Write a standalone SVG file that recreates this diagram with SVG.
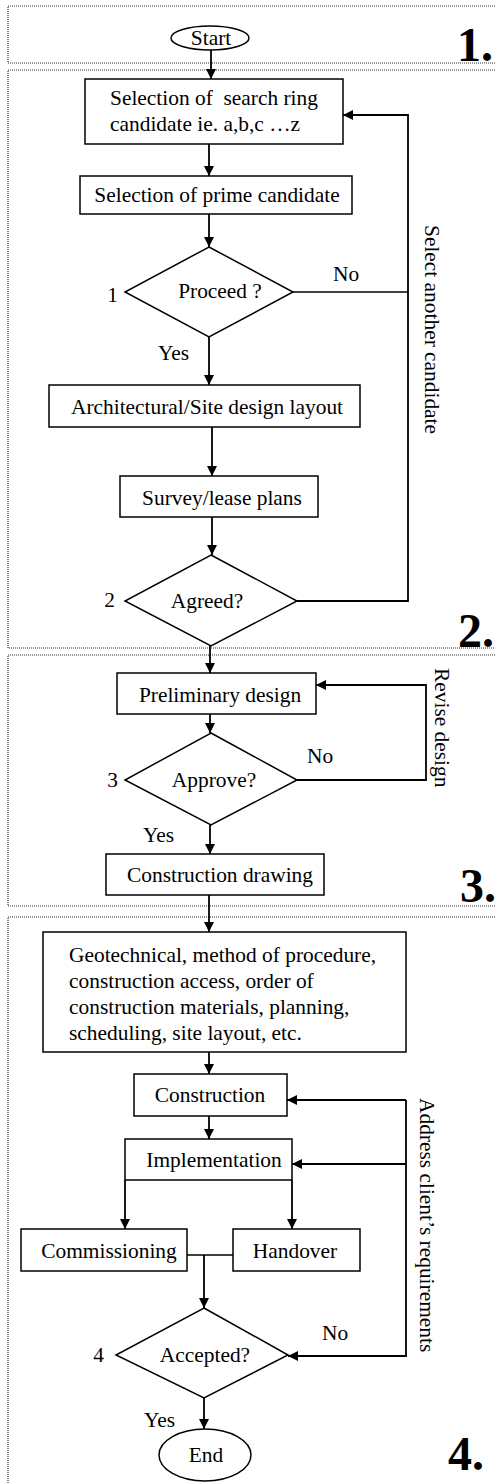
<svg xmlns="http://www.w3.org/2000/svg" width="495" height="1483" viewBox="0 0 495 1483">
<style>
text{font-family:"Liberation Serif","Times New Roman",serif;font-size:21.4px;fill:#000}
.c{text-anchor:middle}
.e{text-anchor:end}
.big{font-weight:bold;font-size:48px}
.pre{white-space:pre}
.box{fill:#fff;stroke:#000;stroke-width:1.5}
.sec{fill:none;stroke:#333;stroke-width:1.2;stroke-dasharray:1 1}
.ln{fill:none;stroke:#000;stroke-width:1.7}
.ar{fill:none;stroke:#000;stroke-width:1.8;marker-end:url(#ah)}
</style>
<defs>
<marker id="ah" viewBox="0 0 10 10" refX="10" refY="5" markerWidth="10" markerHeight="10" markerUnits="userSpaceOnUse" orient="auto">
<path d="M0,0 L10,5 L0,10 z" fill="#000"/>
</marker>
</defs>
<rect width="495" height="1483" fill="#fff"/>
<g id="sections">
<rect class="sec" x="8" y="6" width="520" height="57"/>
<rect class="sec" x="8" y="70" width="520" height="578"/>
<rect class="sec" x="8" y="655" width="520" height="251"/>
<rect class="sec" x="8" y="917" width="520" height="600"/>
<text class="big" x="457" y="61">1.</text>
<text class="big" x="458" y="647">2.</text>
<text class="big" x="460" y="902">3.</text>
<text class="big" x="448" y="1470">4.</text>
</g>
<g id="connectors">
<line class="ar" x1="211" y1="49" x2="211" y2="79"/>
<line class="ar" x1="209" y1="144" x2="209" y2="176"/>
<line class="ar" x1="209" y1="214" x2="209" y2="247"/>
<line class="ar" x1="209" y1="337" x2="209" y2="385"/>
<line class="ar" x1="212" y1="427" x2="212" y2="476"/>
<line class="ar" x1="212" y1="517" x2="212" y2="555"/>
<polyline class="ln" points="293,292 408,292"/>
<polyline class="ar" points="297,601 408,601 408,115 343,115"/>
<line class="ar" x1="210" y1="646" x2="210" y2="673"/>
<line class="ar" x1="210" y1="714" x2="210" y2="733"/>
<polyline class="ar" points="297,780 426,780 426,685 316,685"/>
<line class="ar" x1="210" y1="825" x2="210" y2="854"/>
<line class="ar" x1="209" y1="895" x2="209" y2="932"/>
<line class="ar" x1="209" y1="1052" x2="209" y2="1074"/>
<line class="ar" x1="209" y1="1116" x2="209" y2="1139"/>
<line class="ar" x1="125" y1="1180" x2="125" y2="1229"/>
<line class="ar" x1="292" y1="1180" x2="292" y2="1229"/>
<line class="ln" x1="187" y1="1255" x2="233" y2="1255"/>
<line class="ar" x1="204" y1="1255" x2="204" y2="1308"/>
<polyline class="ar" points="406,1100 406,1356 288,1356"/>
<line class="ar" x1="406" y1="1100" x2="287" y2="1100"/>
<line class="ar" x1="406" y1="1164" x2="292" y2="1164"/>
<line class="ar" x1="204" y1="1398" x2="204" y2="1429"/>
<text x="333" y="281">No</text>
<text x="158" y="360">Yes</text>
<text transform="translate(425,225) rotate(90)">Select another candidate</text>
<text x="307" y="763">No</text>
<text x="143" y="842">Yes</text>
<text transform="translate(435,668) rotate(90)">Revise design</text>
<text transform="translate(420,1098) rotate(90)">Address client’s requirements</text>
<text x="322" y="1340">No</text>
<text x="144" y="1427">Yes</text>
</g>
<g id="start">
<ellipse class="box" cx="210" cy="38" rx="39" ry="12"/>
<text class="c" x="211" y="45">Start</text>
</g>
<g id="search-ring">
<rect class="box" x="85" y="79" width="258" height="65"/>
<text class="pre" x="110" y="105">Selection of  search ring</text>
<text x="110" y="131">candidate ie. a,b,c …z</text>
</g>
<g id="prime-candidate">
<rect class="box" x="80" y="176" width="272" height="38"/>
<text class="c" x="217" y="202">Selection of prime candidate</text>
</g>
<g id="proceed">
<polygon class="box" points="209,247 293,292 209,337 125,292"/>
<text class="c" x="220" y="298">Proceed ?</text>
<text class="e" x="118" y="302">1</text>
</g>
<g id="arch-layout">
<rect class="box" x="49" y="385" width="311" height="42"/>
<text class="c" x="207" y="414">Architectural/Site design layout</text>
</g>
<g id="survey">
<rect class="box" x="120" y="476" width="198" height="41"/>
<text class="c" x="222" y="505">Survey/lease plans</text>
</g>
<g id="agreed">
<polygon class="box" points="211,555 297,601 211,646 125,601"/>
<text class="c" x="207" y="608">Agreed?</text>
<text class="e" x="115" y="607">2</text>
</g>
<g id="preliminary">
<rect class="box" x="117" y="673" width="199" height="41"/>
<text class="c" x="220" y="702">Preliminary design</text>
</g>
<g id="approve">
<polygon class="box" points="211,733 297,780 211,825 125,780"/>
<text class="c" x="214" y="787">Approve?</text>
<text class="e" x="118" y="787">3</text>
</g>
<g id="construction-drawing">
<rect class="box" x="106" y="854" width="218" height="41"/>
<text class="c" x="220" y="882">Construction drawing</text>
</g>
<g id="geotechnical">
<rect class="box" x="43" y="932" width="363" height="120"/>
<text x="69" y="962">Geotechnical, method of procedure,</text>
<text x="69" y="988">construction access, order of</text>
<text x="69" y="1014">construction materials, planning,</text>
<text x="69" y="1040">scheduling, site layout, etc.</text>
</g>
<g id="construction">
<rect class="box" x="134" y="1074" width="153" height="42"/>
<text class="c" x="210" y="1102">Construction</text>
</g>
<g id="implementation">
<rect class="box" x="125" y="1139" width="167" height="41"/>
<text class="c" x="214" y="1167">Implementation</text>
</g>
<g id="commissioning">
<rect class="box" x="21" y="1229" width="166" height="42"/>
<text class="c" x="109" y="1258">Commissioning</text>
</g>
<g id="handover">
<rect class="box" x="233" y="1229" width="127" height="42"/>
<text class="c" x="295" y="1258">Handover</text>
</g>
<g id="accepted">
<polygon class="box" points="204,1308 288,1355 204,1398 116,1355"/>
<text class="c" x="205" y="1362">Accepted?</text>
<text class="e" x="104" y="1362">4</text>
</g>
<g id="end">
<ellipse class="box" cx="205" cy="1455" rx="46" ry="26"/>
<text class="c" x="206" y="1462">End</text>
</g>
</svg>
